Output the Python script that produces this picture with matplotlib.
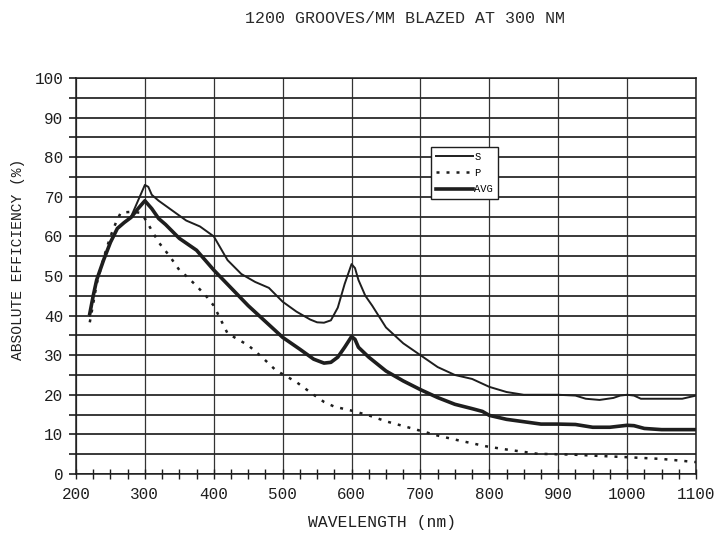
import numpy as np
import matplotlib
matplotlib.use('Agg')
import matplotlib.pyplot as plt
from matplotlib.ticker import MultipleLocator

plt.rcParams['font.family'] = ['Liberation Mono', 'DejaVu Sans Mono']

# S polarisation
wl_s = [220, 225, 230, 240, 250, 260, 270, 280, 290, 300, 305, 310, 320, 340, 360,
        380, 400, 410, 420, 440, 460, 480, 500, 520, 540, 550, 560, 570, 580, 590,
        600, 605, 610, 620, 630, 650, 675, 700, 725, 750, 775, 800, 825, 850, 900,
        925, 940, 960, 980, 990, 1000, 1010, 1020, 1050, 1080, 1100]
eff_s = [40, 45, 49, 54, 58.5, 62, 63.5, 65, 69, 73, 72.5, 70.5, 69, 66.5, 64,
         62.5, 60, 57, 54, 50.5, 48.5, 47, 43.5, 41, 39, 38.3, 38.2, 38.8, 42, 48,
         53, 52, 49, 45, 42.5, 37, 33, 30, 27, 25, 24, 22, 20.7, 20, 20,
         19.8, 19, 18.7, 19.2, 19.8, 20, 19.8, 19, 19, 19, 19.8]

# P polarisation
wl_p = [220, 225, 230, 240, 250, 258, 265, 280, 292, 300, 310, 320, 336, 350, 360,
        375, 390, 400, 410, 420, 440, 450, 470, 490, 520, 545, 560, 575, 600, 625,
        650, 690, 725, 755, 795, 820, 870, 920, 955, 1005, 1050, 1100]
eff_p = [38.3, 43, 48, 54.5, 60, 63.5, 66, 66.2, 66, 64.5, 61.5, 58.5, 55, 51.5, 50,
         47.5, 44.7, 42.5, 39, 35.5, 33.5, 32.5, 29.5, 26.2, 23.2, 20, 18.2, 17, 16, 14.8,
         13.3, 11.4, 9.7, 8.5, 7, 6.3, 5.1, 4.9, 4.6, 4.2, 3.8, 3.0]

# average
wl_a = [220, 225, 230, 240, 250, 260, 270, 280, 290, 300, 310, 320, 330, 350, 375,
        400, 425, 450, 475, 500, 525, 545, 560, 570, 580, 590, 600, 605, 610, 625,
        650, 675, 700, 725, 750, 775, 790, 800, 825, 850, 875, 900, 925, 950, 975,
        1000, 1010, 1025, 1050, 1100]
eff_a = [40.5, 45, 49, 54, 58.5, 62, 63.5, 64.8, 67, 69, 67, 64.5, 63, 59.5, 56.5,
         51.5, 47, 42.5, 38.5, 34.5, 31.5, 29, 28, 28.2, 29.5, 32, 34.7, 34, 32, 29.5,
         26, 23.5, 21.3, 19.3, 17.6, 16.5, 15.8, 14.8, 13.8, 13.2, 12.6, 12.6, 12.5, 11.8, 11.8,
         12.3, 12.2, 11.5, 11.2, 11.2]

fig = plt.figure(figsize=(7.17, 5.36), dpi=100)
ax = fig.add_axes([0.106, 0.1157, 0.8647, 0.7388])

ink = '#1e1e1e'
ax.plot(wl_s, eff_s, color=ink, lw=1.4, label='S')
ax.plot(wl_p, eff_p, color=ink, lw=1.8, linestyle=(0, (1.2, 2.8)), label='P')
ax.plot(wl_a, eff_a, color=ink, lw=2.6, label='AVG')

ax.set_xlim(200, 1100)
ax.set_ylim(0, 100)
ax.xaxis.set_major_locator(MultipleLocator(100))
ax.xaxis.set_minor_locator(MultipleLocator(25))
ax.yaxis.set_major_locator(MultipleLocator(10))
ax.yaxis.set_minor_locator(MultipleLocator(5))

ax.grid(axis='x', which='major', color='#333333', lw=0.9)
ax.grid(axis='y', which='both', color='#2a2a2a', lw=1.3)
ax.set_axisbelow(True)

ax.tick_params(axis='x', which='both', direction='inout', length=7, width=1, colors=ink,
               labelsize=11.5, pad=6)
ax.tick_params(axis='y', which='both', direction='out', length=5, width=1.2, colors=ink,
               labelsize=11.5, pad=4)
for sp in ax.spines.values():
    sp.set_color(ink)
    sp.set_linewidth(1.1)

ax.set_xlabel('WAVELENGTH (nm)', fontsize=11.8, color=ink)
ax.xaxis.set_label_coords(0.493, -0.103)
ax.set_ylabel('ABSOLUTE EFFICIENCY (%)', fontsize=10.5, color=ink)
ax.yaxis.set_label_coords(-0.083, 0.543)
fig.text(0.565, 0.965, '1200 GROOVES/MM BLAZED AT 300 NM', ha='center', va='center',
         fontsize=12, color='#2a2a2a')

leg = ax.legend(loc='upper left', bbox_to_anchor=(0.5635, 0.84), fontsize=7.5,
                frameon=True, fancybox=False, edgecolor=ink, framealpha=1,
                handlelength=3.6, handletextpad=0.1, borderpad=0.5, labelspacing=0.6)
leg.get_frame().set_linewidth(1.0)

fig.savefig('out.png', dpi=100)
